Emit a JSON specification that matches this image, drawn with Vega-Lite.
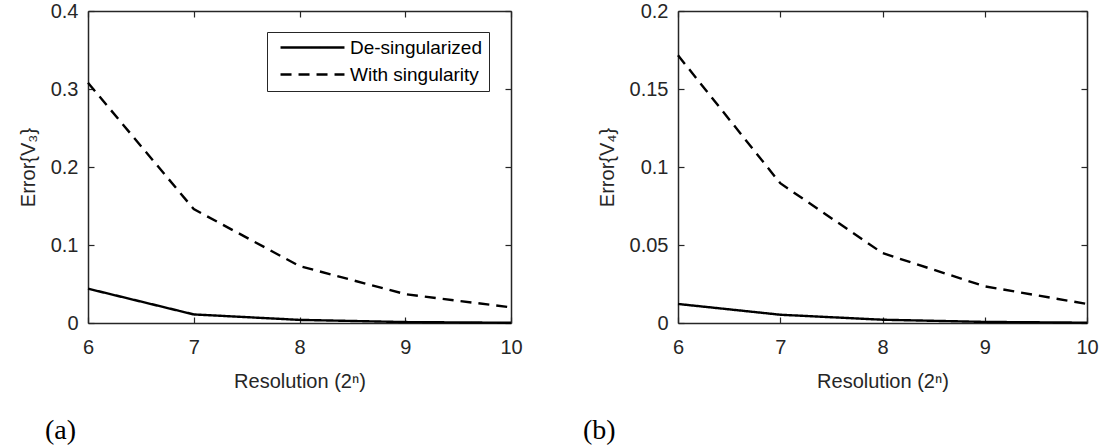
{
  "$schema": "https://vega.github.io/schema/vega-lite/v6.json",
  "padding": {"left": 18, "top": 1, "right": 5, "bottom": 0},
  "background": "white",
  "data": {"values": [
    {"panel": "a", "n": 6, "method": "De-singularized", "err": 0.044},
    {"panel": "a", "n": 7, "method": "De-singularized", "err": 0.011},
    {"panel": "a", "n": 8, "method": "De-singularized", "err": 0.004},
    {"panel": "a", "n": 9, "method": "De-singularized", "err": 0.0012},
    {"panel": "a", "n": 10, "method": "De-singularized", "err": 0.0003},
    {"panel": "a", "n": 6, "method": "With singularity", "err": 0.308},
    {"panel": "a", "n": 7, "method": "With singularity", "err": 0.146},
    {"panel": "a", "n": 8, "method": "With singularity", "err": 0.073},
    {"panel": "a", "n": 9, "method": "With singularity", "err": 0.037},
    {"panel": "a", "n": 10, "method": "With singularity", "err": 0.020},
    {"panel": "b", "n": 6, "method": "De-singularized", "err": 0.0122},
    {"panel": "b", "n": 7, "method": "De-singularized", "err": 0.0053},
    {"panel": "b", "n": 8, "method": "De-singularized", "err": 0.0021},
    {"panel": "b", "n": 9, "method": "De-singularized", "err": 0.0007},
    {"panel": "b", "n": 10, "method": "De-singularized", "err": 0.0002},
    {"panel": "b", "n": 6, "method": "With singularity", "err": 0.1716},
    {"panel": "b", "n": 7, "method": "With singularity", "err": 0.0896},
    {"panel": "b", "n": 8, "method": "With singularity", "err": 0.0448},
    {"panel": "b", "n": 9, "method": "With singularity", "err": 0.0235},
    {"panel": "b", "n": 10, "method": "With singularity", "err": 0.0122}
  ]},
  "bounds": "flush",
  "spacing": 167,
  "config": {
    "view": {"stroke": null},
    "font": "Liberation Sans",
    "axis": {
      "labelFont": "Liberation Sans", "labelFontSize": 20, "labelColor": "#262626",
      "titleFont": "Liberation Sans", "titleFontSize": 20, "titleFontWeight": "normal", "titleColor": "#262626",
      "domainColor": "#262626", "domainWidth": 1.5,
      "tickColor": "#262626", "tickWidth": 1.2, "tickSize": -6,
      "grid": false, "labelFlush": false
    },
    "legend": {
      "symbolType": "M-5.33,0H5.33", "symbolSize": 144, "symbolOffset": 30, "labelOffset": 28,
      "symbolStrokeWidth": 2.4, "symbolStrokeColor": "black",
      "labelFont": "Liberation Sans", "labelFontSize": 19, "labelColor": "black", "labelLimit": 400,
      "padding": 6, "rowPadding": 7, "strokeColor": "#262626", "fillColor": "white"
    },
    "title": {"font": "Liberation Serif", "fontSize": 28, "fontWeight": "normal", "color": "black"}
  },
  "hconcat": [
    {
      "width": 423, "height": 312,
      "title": {"text": "(a)", "orient": "bottom", "anchor": "start", "frame": "group", "dx": -43, "offset": 26},
      "transform": [{"filter": "datum.panel === 'a'"}],
      "layer": [
        {
          "mark": {"type": "line", "color": "black", "strokeWidth": 2.4},
          "encoding": {
            "x": {"field": "n", "type": "quantitative", "scale": {"domain": [6, 10], "nice": false, "zero": false},
                  "axis": {"orient": "bottom", "values": [6, 7, 8, 9, 10], "labelPadding": 20, "title": "Resolution (2ⁿ)", "titlePadding": 14}},
            "y": {"field": "err", "type": "quantitative", "scale": {"domain": [0, 0.4], "nice": false},
                  "axis": {"orient": "left", "values": [0, 0.1, 0.2, 0.3, 0.4], "format": "~g", "labelPadding": 16, "title": "Error{V₃}", "titlePadding": 12}},
            "strokeDash": {"field": "method", "type": "nominal",
                  "scale": {"domain": ["De-singularized", "With singularity"], "range": [[1, 0], [11, 7]]},
                  "legend": {"orient": "none", "legendX": 179, "legendY": 21, "title": null}}
          }
        },
        {
          "mark": {"type": "line", "opacity": 0},
          "encoding": {
            "x": {"field": "n", "type": "quantitative", "axis": {"orient": "top", "values": [6, 7, 8, 9, 10], "labels": false, "title": null}},
            "y": {"field": "err", "type": "quantitative", "axis": {"orient": "right", "values": [0, 0.1, 0.2, 0.3, 0.4], "labels": false, "title": null}},
            "detail": {"field": "method"}
          }
        }
      ],
      "resolve": {"axis": {"x": "independent", "y": "independent"}}
    },
    {
      "width": 409, "height": 312,
      "title": {"text": "(b)", "orient": "bottom", "anchor": "start", "frame": "group", "dx": -95, "offset": 26},
      "transform": [{"filter": "datum.panel === 'b'"}],
      "layer": [
        {
          "mark": {"type": "line", "color": "black", "strokeWidth": 2.4},
          "encoding": {
            "x": {"field": "n", "type": "quantitative", "scale": {"domain": [6, 10], "nice": false, "zero": false},
                  "axis": {"orient": "bottom", "values": [6, 7, 8, 9, 10], "labelPadding": 20, "title": "Resolution (2ⁿ)", "titlePadding": 14}},
            "y": {"field": "err", "type": "quantitative", "scale": {"domain": [0, 0.2], "nice": false},
                  "axis": {"orient": "left", "values": [0, 0.05, 0.1, 0.15, 0.2], "format": "~g", "labelPadding": 16, "title": "Error{V₄}", "titlePadding": 12}},
            "strokeDash": {"field": "method", "type": "nominal",
                  "scale": {"domain": ["De-singularized", "With singularity"], "range": [[1, 0], [11, 7]]},
                  "legend": {"orient": "none", "legendX": 167, "legendY": 21, "title": null}}
          }
        },
        {
          "mark": {"type": "line", "opacity": 0},
          "encoding": {
            "x": {"field": "n", "type": "quantitative", "axis": {"orient": "top", "values": [6, 7, 8, 9, 10], "labels": false, "title": null}},
            "y": {"field": "err", "type": "quantitative", "axis": {"orient": "right", "values": [0, 0.05, 0.1, 0.15, 0.2], "labels": false, "title": null}},
            "detail": {"field": "method"}
          }
        }
      ],
      "resolve": {"axis": {"x": "independent", "y": "independent"}}
    }
  ]
}
